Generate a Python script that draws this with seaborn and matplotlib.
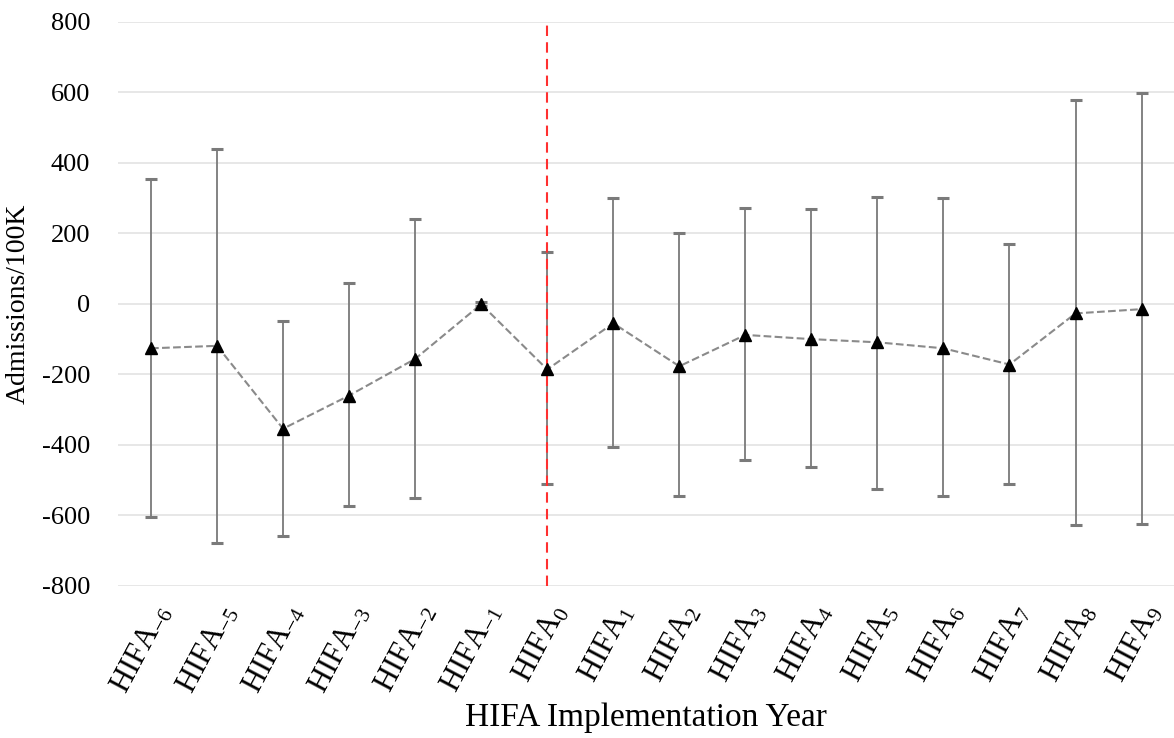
import matplotlib
matplotlib.use("Agg")
import matplotlib.pyplot as plt
import numpy as np
import pandas as pd
import seaborn as sns

YEARS = [-6, -5, -4, -3, -2, -1, 0, 1, 2, 3, 4, 5, 6, 7, 8, 9]
MEAN = [-126, -119, -354, -260, -156, -1, -186, -55, -177, -88, -100, -109, -126, -172, -27, -15]
UPPER = [354, 440, -49, 60, 241, 5, 146, 300, 201, 272, 268, 304, 300, 169, 577, 598]
LOWER = [-605, -677, -659, -574, -550, -7, -510, -406, -546, -442, -464, -524, -546, -510, -627, -623]
TICK_LABELS = [r"HIFA$_{\mathregular{%d}}$" % y for y in YEARS]

sns.set_theme(style="whitegrid")
plt.rcParams["font.family"] = ["Liberation Serif", "DejaVu Serif"]
plt.rcParams["mathtext.default"] = "regular"
plt.rcParams["axes.unicode_minus"] = False

df = pd.DataFrame({"pos": np.arange(len(YEARS)), "mean": MEAN, "upper": UPPER, "lower": LOWER})

fig = plt.figure(figsize=(11.74, 7.38), dpi=100)
ax = fig.add_axes([0.1005, 0.206, 0.9, 0.7645])

yerr = [df["mean"] - df["lower"], df["upper"] - df["mean"]]
ax.errorbar(df["pos"], df["mean"], yerr=yerr, fmt="none", ecolor="#7a7a7a",
            elinewidth=1.3, capsize=4.3, capthick=2.2, zorder=2)

ax.axvline(6, color="#ff3030", linestyle=(0, (5, 3)), linewidth=1.5, zorder=3)

sns.lineplot(data=df, x="pos", y="mean", ax=ax, color="#8a8a8a", linestyle="--",
             linewidth=1.5, zorder=4)
ax.plot(df["pos"], df["mean"], linestyle="none", marker="^", markersize=9,
        color="black", zorder=5)

ax.set_xlim(-0.5, len(YEARS) - 0.5)
ax.set_ylim(-800, 800)
ax.set_yticks(range(-800, 801, 200))
ax.set_xticks(df["pos"])
ax.set_xticklabels(TICK_LABELS, rotation=62, ha="right", rotation_mode="anchor", fontsize=22)
ax.tick_params(axis="y", labelsize=19, pad=14, labelcolor="black")
ax.tick_params(axis="x", pad=4, labelcolor="black")
ax.grid(axis="x", visible=False)
ax.grid(axis="y", color="#e3e3e3", linewidth=1.2)
for s in ax.spines.values():
    s.set_visible(False)

ax.set_xlabel("HIFA Implementation Year", fontsize=24, va="center", color="black")
ax.xaxis.set_label_coords(0.5, -0.234)
ax.set_ylabel("Admissions/100K", fontsize=20, labelpad=8, color="black")

fig.savefig("out.png", dpi=100)
